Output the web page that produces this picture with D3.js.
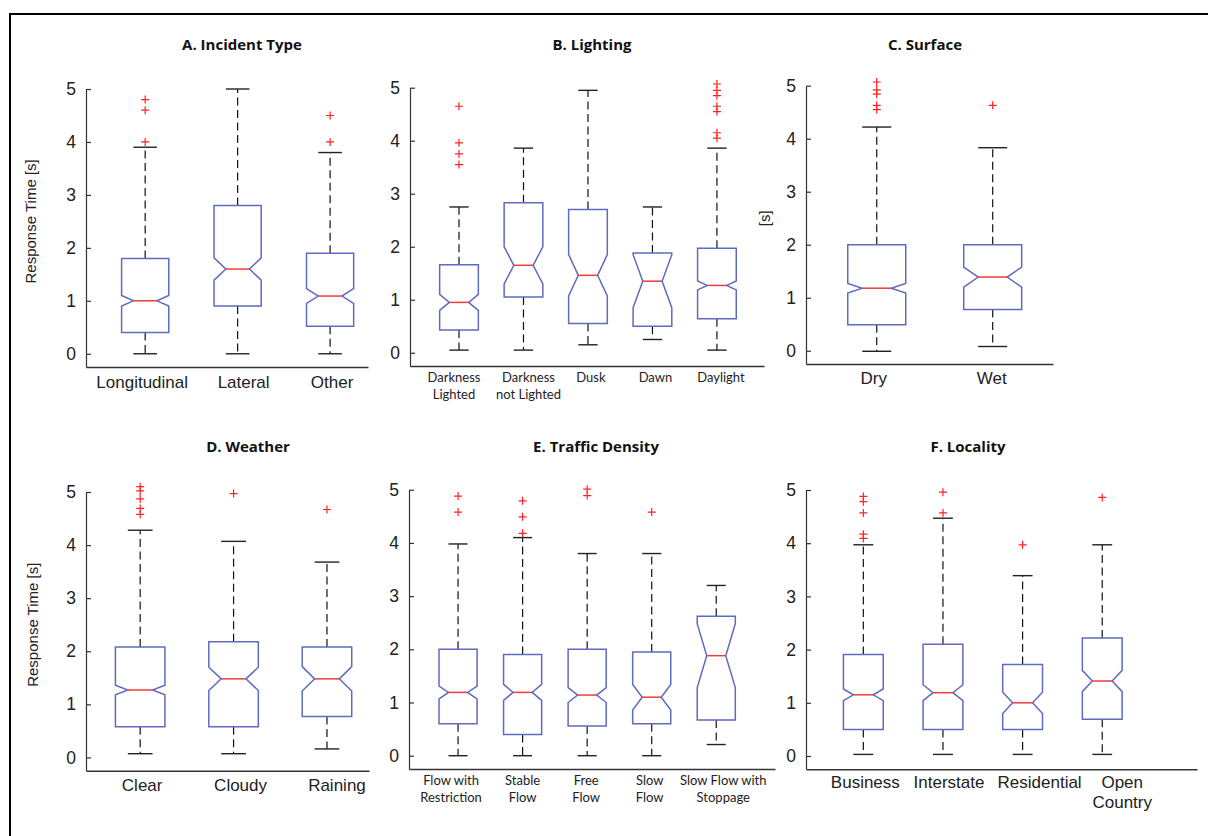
<!DOCTYPE html>
<html>
<head>
<meta charset="utf-8">
<script src="https://cdn.jsdelivr.net/npm/d3@7"></script>
<style>
body{margin:0;background:#fff;}
svg{display:block;}
</style>
</head>
<body>
<div id="chart"></div>
<script>
var width=1208, height=836;

// ---- data (response time, s) ----
var catsA=["Longitudinal","Lateral","Other"];
var lowA=[0,0,0], q1A=[0.4,0.9,0.52], medA=[1.0,1.6,1.09], q3A=[1.8,2.8,1.9], highA=[3.9,5.0,3.8];
var notchA=[0.1,0.21,0.14];
var outA=[[4.0,4.6,4.8],[],[4.0,4.5]];

var catsB=["Darkness\nLighted","Darkness\nnot Lighted","Dusk","Dawn","Daylight"];
var lowB=[0.05,0.05,0.15,0.25,0.05], q1B=[0.43,1.05,0.55,0.5,0.64], medB=[0.95,1.65,1.46,1.35,1.27];
var q3B=[1.66,2.83,2.7,1.88,1.97], highB=[2.75,3.86,4.95,2.75,3.86];
var notchB=[0.15,0.35,0.39,0.5,0.085];
var outB=[[3.55,3.75,3.96,4.65],[],[],[],[4.05,4.15,4.55,4.65,4.85,4.95,5.07]];

var catsC=["Dry","Wet"];
var lowC=[-0.01,0.08], q1C=[0.49,0.78], medC=[1.18,1.39], q3C=[2.0,2.0], highC=[4.22,3.83];
var notchC=[0.09,0.19];
var outC=[[4.55,4.63,4.84,4.92,5.07],[4.63]];

var catsD=["Clear","Cloudy","Raining"];
var lowD=[0.07,0.07,0.16], q1D=[0.58,0.58,0.77], medD=[1.27,1.48,1.48], q3D=[2.08,2.18,2.08], highD=[4.28,4.07,3.68];
var notchD=[0.09,0.22,0.23];
var outD=[[4.58,4.69,4.87,5.02,5.1],[4.97],[4.67]];

var catsE=["Flow with\nRestriction","Stable\nFlow","Free\nFlow","Slow\nFlow","Slow Flow with\nStoppage"];
var lowE=[0,0,0,0,0.21], q1E=[0.6,0.4,0.56,0.6,0.67], medE=[1.19,1.19,1.14,1.1,1.88];
var q3E=[2.0,1.9,2.0,1.95,2.62], highE=[3.98,4.1,3.8,3.8,3.2];
var notchE=[0.12,0.15,0.14,0.24,0.6];
var outE=[[4.58,4.88],[4.18,4.49,4.79],[4.89,5.01],[4.58],[]];

var catsF=["Business","Interstate","Residential","Open\nCountry"];
var lowF=[0.03,0.03,0.03,0.03], q1F=[0.5,0.5,0.5,0.69], medF=[1.15,1.19,1.0,1.41];
var q3F=[1.91,2.1,1.72,2.22], highF=[3.97,4.47,3.39,3.97];
var notchF=[0.11,0.15,0.2,0.2];
var outF=[[4.09,4.17,4.57,4.78,4.88],[4.57,4.96],[3.97],[4.86]];

var yTicks=[0,1,2,3,4,5];

// ---- layout of the six panels ----
var panels=[
  {title:"A. Incident Type", cats:catsA, low:lowA, q1:q1A, med:medA, q3:q3A, high:highA, notch:notchA, out:outA,
   left:86, right:368, top:89, bottom:367, xdom:[0.36,3.41], boxFrac:0.51, titleX:242, titleY:50,
   ylabel:"Response Time [s]", ylabelX:31, labFont:"'Liberation Sans', Arial, sans-serif", labSize:17, labY:388, labDx:[-3,6,2]},
  {title:"B. Lighting", cats:catsB, low:lowB, q1:q1B, med:medB, q3:q3B, high:highB, notch:notchB, out:outB,
   left:410, right:764, top:87.7, bottom:366, xdom:[0.24,5.73], boxFrac:0.6, titleX:592, titleY:50,
   labFont:"Lato, sans-serif", labSize:13, labY:382, labDx:[-5,5,3,3,4]},
  {title:"C. Surface", cats:catsC, low:lowC, q1:q1C, med:medC, q3:q3C, high:highC, notch:notchC, out:outC,
   left:806, right:1053, top:85.7, bottom:364, xdom:[0.39,2.52], boxFrac:0.5, titleX:925, titleY:50,
   ylabel:"[s]", ylabelX:765, labFont:"'Liberation Sans', Arial, sans-serif", labSize:17, labY:384, labDx:[-3,-1]},
  {title:"D. Weather", cats:catsD, low:lowD, q1:q1D, med:medD, q3:q3D, high:highD, notch:notchD, out:outD,
   left:86, right:369, top:492, bottom:770.7, xdom:[0.42,3.45], boxFrac:0.53, titleX:248, titleY:452,
   ylabel:"Response Time [s]", ylabelX:33, labFont:"'Liberation Sans', Arial, sans-serif", labSize:17, labY:791, labDx:[2,7,10]},
  {title:"E. Traffic Density", cats:catsE, low:lowE, q1:q1E, med:medE, q3:q3E, high:highE, notch:notchE, out:outE,
   left:409, right:775, top:489.7, bottom:769, xdom:[0.24,5.91], boxFrac:0.59, titleX:596, titleY:452,
   labFont:"Lato, sans-serif", labSize:13, labY:785, labDx:[-7,0,-1,-2,7]},
  {title:"F. Locality", cats:catsF, low:lowF, q1:q1F, med:medF, q3:q3F, high:highF, notch:notchF, out:outF,
   left:806, right:1197, top:490, bottom:769.3, xdom:[0.28,5.19], boxFrac:0.5, titleX:968, titleY:452,
   labFont:"'Liberation Sans', Arial, sans-serif", labSize:17, labY:788, labDx:[2,6,17,20]}
];

var svg=d3.select('#chart').append('svg')
    .attr('width', width)
    .attr('height', height);

// outer frame (only top and left edges show)
svg.append('path')
    .attr('d', 'M10,'+(height+5)+'V14H'+(width+5))
    .attr('fill','none')
    .attr('stroke','#000')
    .attr('stroke-width',2);

var boxColor="#5f6bbf", medColor="#f23a3a", axisColor="#333";

panels.forEach(function(p){
    var g=svg.append('g');
    var x=d3.scaleLinear().domain(p.xdom).range([p.left,p.right]);
    // y=5 sits at p.top, axis baseline sits at -0.25
    var y=d3.scaleLinear().domain([-0.25,5]).range([p.bottom,p.top]);
    var spacing=x(2)-x(1);
    var bw=spacing*p.boxFrac;

    // y axis with inward ticks
    var ya=g.append('g')
        .attr('transform','translate('+p.left+',0)')
        .call(d3.axisLeft(y).tickValues(yTicks).tickFormat(d3.format('d'))
              .tickSizeInner(-5).tickSizeOuter(0).tickPadding(10));
    ya.select('.domain').attr('stroke',axisColor).attr('stroke-width',1.2);
    ya.selectAll('.tick line').attr('stroke',axisColor).attr('stroke-width',1.2);
    ya.selectAll('.tick text')
        .attr('fill','#222')
        .style('font-family',"'Liberation Sans', Arial, sans-serif")
        .style('font-size','17.5px');

    // x axis baseline
    var xa=g.append('g')
        .attr('transform','translate(0,'+p.bottom+')')
        .call(d3.axisBottom(x).tickValues([]).tickSizeOuter(0));
    xa.select('.domain').attr('stroke',axisColor).attr('stroke-width',1.5);

    // title
    g.append('text')
        .attr('x',p.titleX).attr('y',p.titleY)
        .attr('text-anchor','middle')
        .style('font-family',"'Open Sans', Lato, sans-serif")
        .style('font-weight','bold')
        .style('font-size','15px')
        .attr('fill','#111')
        .text(p.title);

    if(p.ylabel){
        var cy=(y(0)+y(5))/2;
        g.append('text')
            .attr('transform','translate('+p.ylabelX+','+cy+') rotate(-90)')
            .attr('text-anchor','middle')
            .attr('dy','0.35em')
            .style('font-family',"'Liberation Sans', Arial, sans-serif")
            .style('font-size','15px')
            .attr('fill','#222')
            .text(p.ylabel);
    }

    p.cats.forEach(function(c,i){
        var cx=x(i+1);
        var xl=cx-bw/2, xr=cx+bw/2, ind=bw/4;
        var nHi=Math.min(p.med[i]+p.notch[i], p.q3[i]);
        var nLo=Math.max(p.med[i]-p.notch[i], p.q1[i]);

        // whiskers (dashed)
        g.append('line')
            .attr('x1',cx).attr('x2',cx)
            .attr('y1',y(p.q3[i])).attr('y2',y(p.high[i]))
            .attr('stroke','#111').attr('stroke-width',1.2).attr('stroke-dasharray','8,4.5');
        g.append('line')
            .attr('x1',cx).attr('x2',cx)
            .attr('y1',y(p.q1[i])).attr('y2',y(p.low[i]))
            .attr('stroke','#111').attr('stroke-width',1.2).attr('stroke-dasharray','8,4.5');
        // caps
        [p.high[i],p.low[i]].forEach(function(v){
            g.append('line')
                .attr('x1',cx-bw/4).attr('x2',cx+bw/4)
                .attr('y1',y(v)).attr('y2',y(v))
                .attr('stroke','#222').attr('stroke-width',1.4);
        });

        // notched box
        var pts=[
            [xl,y(p.q1[i])],[xl,y(nLo)],[xl+ind,y(p.med[i])],[xl,y(nHi)],[xl,y(p.q3[i])],
            [xr,y(p.q3[i])],[xr,y(nHi)],[xr-ind,y(p.med[i])],[xr,y(nLo)],[xr,y(p.q1[i])]
        ];
        g.append('path')
            .attr('d',d3.line()(pts)+'Z')
            .attr('fill','none')
            .attr('stroke',boxColor)
            .attr('stroke-width',1.5);

        // median
        g.append('line')
            .attr('x1',xl+ind).attr('x2',xr-ind)
            .attr('y1',y(p.med[i])).attr('y2',y(p.med[i]))
            .attr('stroke',medColor).attr('stroke-width',1.5);

        // outliers
        p.out[i].forEach(function(v){
            g.append('path')
                .attr('d','M'+(cx-4)+','+y(v)+'H'+(cx+4)+'M'+cx+','+(y(v)-4)+'V'+(y(v)+4))
                .attr('stroke','#f22').attr('stroke-width',1.2);
        });

        // category label (may be two lines)
        var lines=c.split('\n');
        var t=g.append('text')
            .attr('text-anchor','middle')
            .style('font-family',p.labFont)
            .style('font-size',p.labSize+'px')
            .attr('fill','#222');
        lines.forEach(function(s,k){
            t.append('tspan')
                .attr('x',cx+p.labDx[i])
                .attr('y',p.labY+k*(p.labSize<15?16.5:20))
                .text(s);
        });
    });
});
</script>
</body>
</html>
